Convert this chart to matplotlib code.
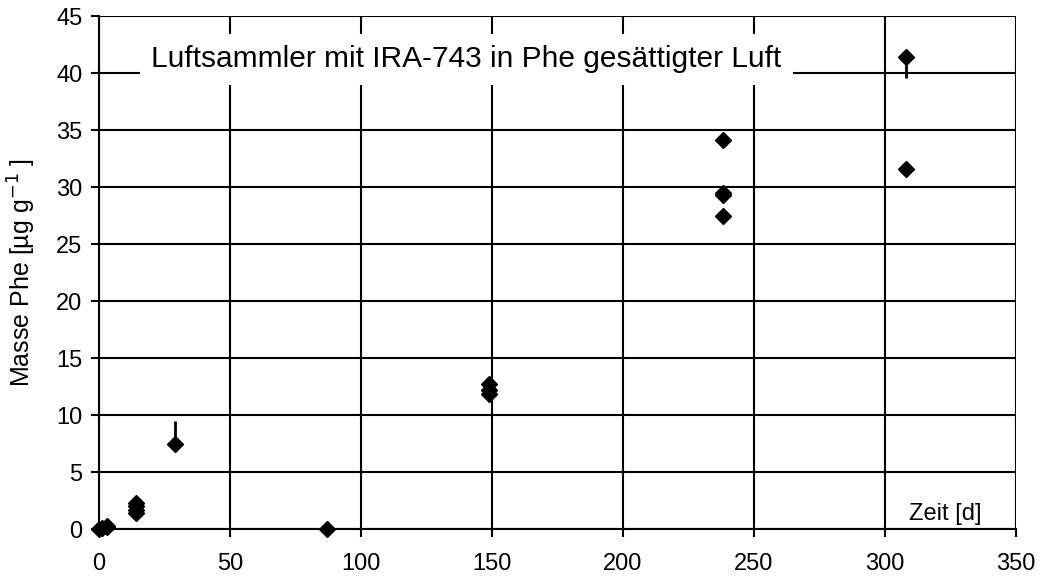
import matplotlib
matplotlib.use("Agg")
import matplotlib.pyplot as plt
from matplotlib.patches import Rectangle

plt.rcParams.update({
    "font.family": ["Liberation Sans", "DejaVu Sans"],
    "font.size": 17,
    "axes.unicode_minus": False,
})

tage = [0, 1, 3, 3, 14, 14, 14, 14, 29, 87, 149, 149, 149, 238, 238, 238, 238, 308, 308]
masse = [0.0, 0.1, 0.3, 0.2, 1.4, 1.7, 2.0, 2.3, 7.5, 0.0, 11.8, 12.2, 12.7,
         27.5, 29.3, 29.5, 34.1, 41.4, 31.6]

# einseitige Fehlerbalken
err_tage = [29, 308]
err_werte = [7.5, 41.4]
err_unten = [0.0, 1.8]
err_oben = [2.0, 0.0]

titel = "Luftsammler mit IRA-743 in Phe gesättigter Luft"

fig = plt.figure(figsize=(10.4, 5.87), dpi=100)
ax = fig.add_axes([0.0952, 0.0988, 0.8817, 0.8739])

ax.errorbar(err_tage, err_werte, yerr=[err_unten, err_oben], fmt="none",
            ecolor="black", elinewidth=2, capsize=0, zorder=4)
ax.plot(tage, masse, "D", color="black", ms=8, zorder=5, clip_on=False)

ax.set_xlim(0, 350)
ax.set_ylim(0, 45)
ax.set_xticks(range(0, 351, 50))
ax.set_yticks(range(0, 46, 5))
ax.grid(True, color="black", lw=1.5)
ax.set_axisbelow(True)

for s in ["top", "right"]:
    ax.spines[s].set_visible(False)
for s in ["left", "bottom"]:
    ax.spines[s].set_linewidth(1.5)
ax.tick_params(direction="out", length=6, width=1.5, labelsize=17)
ax.tick_params(axis="x", pad=11)
ax.tick_params(axis="y", pad=6)

ax.set_ylabel("Masse Phe [µg g$^{-1}$ ]", fontsize=18)
ax.yaxis.set_label_coords(-0.066, 0.5)

# Titel im Diagramm mit weißem Hintergrund
ax.add_patch(Rectangle((0.045, 0.865), 0.712, 0.10, transform=ax.transAxes,
                       facecolor="white", edgecolor="none", zorder=3))
ax.text(0.4008, 0.9006, titel, transform=ax.transAxes, ha="center", va="baseline",
        fontsize=21.5, zorder=6)

ax.text(0.9226, 0.03, "Zeit [d]", transform=ax.transAxes, ha="center",
        va="center", fontsize=17)

plt.savefig("out.png", dpi=100)
